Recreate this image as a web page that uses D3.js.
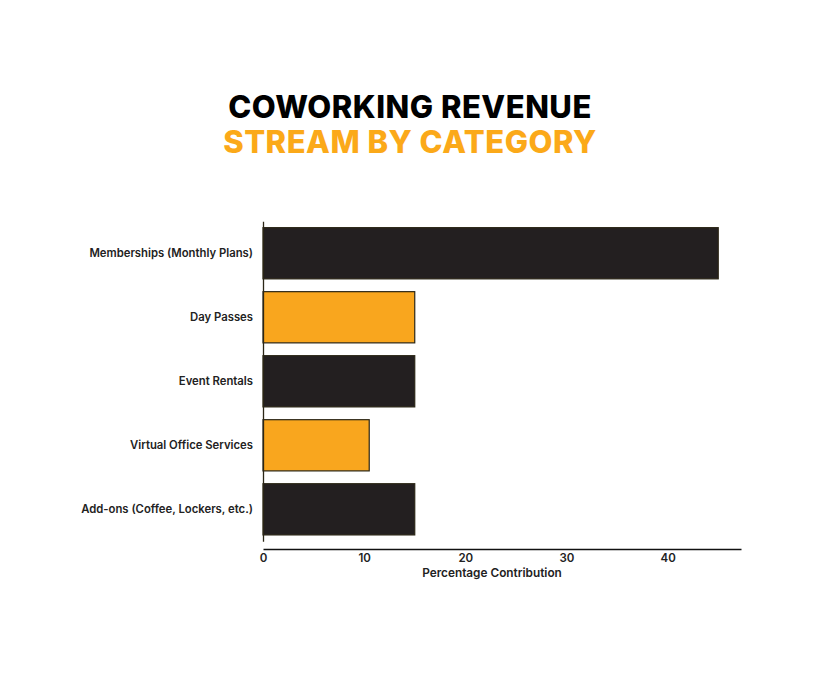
<!DOCTYPE html>
<html>
<head>
<meta charset="utf-8">
<script src="https://cdn.jsdelivr.net/npm/d3@7"></script>
<style>
  body{margin:0;background:#fff;}
  svg{display:block;font-family:Inter,"Open Sans",sans-serif;}
</style>
</head>
<body>
<div id="chart"></div>
<script>
/* coworking revenue — horizontal bars */

const CATEGORIES=["Memberships (Monthly Plans)","Day Passes","Event Rentals","Virtual Office Services","Add-ons (Coffee, Lockers, etc.)"];
const VALUES=[45,15,15,10.5,15];
const X_TICKS=[0,10,20,30,40];
const TITLE_1="COWORKING REVENUE";
const TITLE_2="STREAM BY CATEGORY";
const X_LABEL="Percentage Contribution";

const W=820, H=683;
const DARK="#231f20", ORANGE="#f9a61e";
const M={top:211,left:263,right:79,bottom:134};

const svg=d3.select("#chart").append("svg").attr("width",W).attr("height",H);

/* title */
svg.append("text").attr("x",410).attr("y",118).attr("text-anchor","middle")
   .style("font-size","31px").style("font-weight",800).style("letter-spacing","0.5px")
   .attr("fill","#000").text(TITLE_1);
svg.append("text").attr("x",410).attr("y",153).attr("text-anchor","middle")
   .style("font-size","31px").style("font-weight",800).style("letter-spacing","0.5px")
   .attr("fill","#fba919").text(TITLE_2);

/* scales */
const x=d3.scaleLinear().domain([0,47.25]).range([M.left,W-M.right]);
const step=(H-M.bottom-M.top)/(CATEGORIES.length+0.28);
const y=d3.scaleBand().domain(CATEGORIES)
   .range([M.top+0.16*step,H-M.bottom-0.12*step])
   .paddingInner(0.2).paddingOuter(0.1);

/* bars */
svg.append("g").selectAll("rect").data(CATEGORIES).join("rect")
   .attr("x",x(0)).attr("y",d=>y(d))
   .attr("width",(d,i)=>x(VALUES[i])-x(0)).attr("height",y.bandwidth())
   .attr("fill",(d,i)=>i%2?ORANGE:DARK)
   .attr("stroke","#2b2616").attr("stroke-width",1.2);

/* axes */
const xa=svg.append("g").attr("transform",`translate(0,${H-M.bottom})`)
   .call(d3.axisBottom(x).tickValues(X_TICKS).tickSize(0).tickPadding(5).tickSizeOuter(0));
xa.select(".domain").attr("stroke","#111").attr("stroke-width",1.3);
xa.selectAll("text").style("font-size","11.5px").style("font-weight",600)
   .attr("fill","#222").style("font-family","Inter,sans-serif");

const ya=svg.append("g").attr("transform",`translate(${M.left},0)`)
   .call(d3.axisLeft(y).tickSize(0).tickPadding(10).tickSizeOuter(0));
ya.select(".domain").attr("stroke","#2b2616").attr("stroke-width",1.3);
ya.selectAll("text").style("font-size","11.3px").style("font-weight",600)
   .attr("fill","#222").style("font-family","Inter,sans-serif");

svg.append("text").attr("x",492).attr("y",577)
   .attr("text-anchor","middle").style("font-size","11.8px").style("font-weight",600)
   .attr("fill","#222").text(X_LABEL);
</script>
</body>
</html>
